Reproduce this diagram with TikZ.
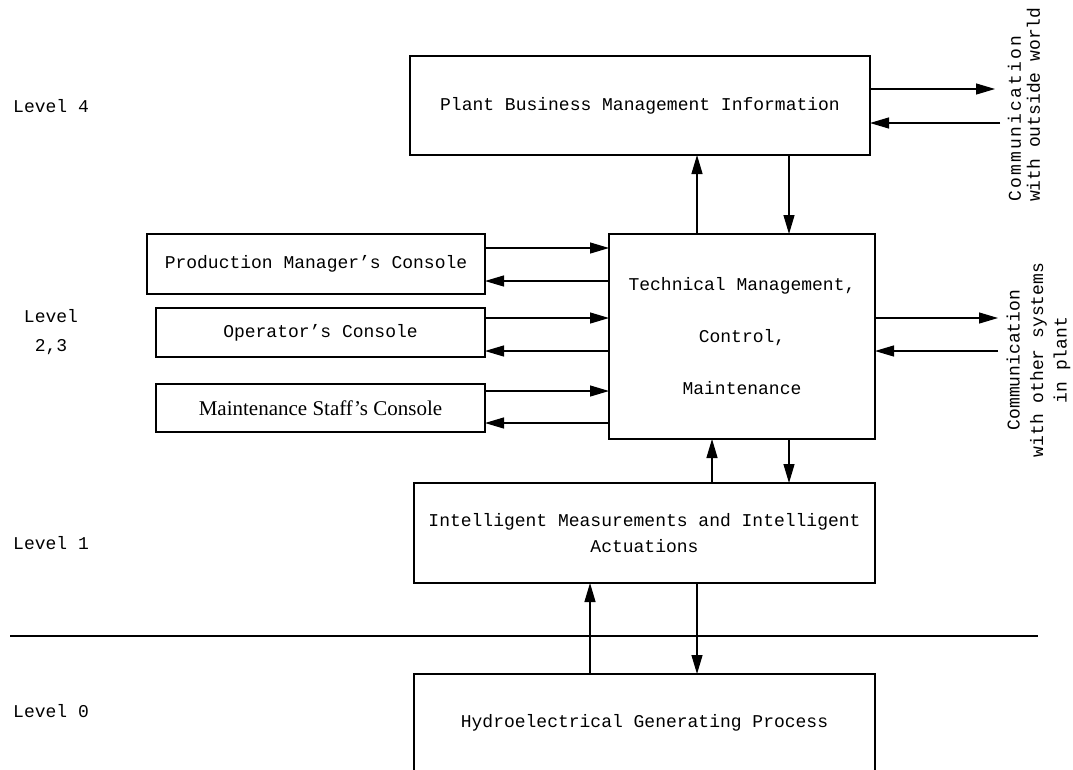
\documentclass[tikz,border=0pt]{standalone}
\usepackage{fontspec}
\setmainfont{Liberation Mono}
\newfontfamily\timesfont{Liberation Serif}
\usetikzlibrary{arrows.meta}
\tikzset{
  box/.style={draw, line width=1.4pt, inner sep=0pt, outer sep=0pt, align=center,
    font=\fontsize{18}{21.6}\selectfont},
  arr/.style={line width=1.2pt, -{Triangle[length=19pt,width=11pt]}},
  lbl/.style={inner sep=0pt, align=center, font=\fontsize{18}{21.6}\selectfont},
  divider/.style={line width=1.4pt},
}
\begin{document}
\begin{tikzpicture}[x=1pt,y=-1pt]
\useasboundingbox (0,0) rectangle (1073,769);
\clip (0,0) rectangle (1073,769);
\fill[white] (0,0) rectangle (1073,769);

% boxes
\node[box, minimum width=460pt, minimum height=99pt] (plant) at (640,105.5)
  {Plant Business Management Information};
\node[box, minimum width=266pt, minimum height=205pt, font=\fontsize{18}{52}\selectfont] (tech) at (742,336.5)
  {Technical Management,\\Control,\\Maintenance};
\node[box, minimum width=338pt, minimum height=60pt] (pmc) at (316,264)
  {Production Manager’s Console};
\node[box, minimum width=329pt, minimum height=49pt] (op) at (320.5,332.5)
  {Operator’s Console};
\node[box, minimum width=329pt, minimum height=48pt, font=\timesfont\fontsize{21}{25}\selectfont] (mst) at (320.5,408)
  {Maintenance Staff’s Console};
\node[box, minimum width=461pt, minimum height=100pt, font=\fontsize{18}{26}\selectfont] (intel) at (644.5,533)
  {Intelligent Measurements and Intelligent\\Actuations};
\node[box, minimum width=461pt, minimum height=98pt] (hydro) at (644.5,723)
  {Hydroelectrical Generating Process};

% level labels
\node[lbl, anchor=west] (l4) at (13,106) {Level 4};
\node[lbl, font=\fontsize{18}{29}\selectfont] (l23) at (51,332) {Level\\2,3};
\node[lbl, anchor=west] (l1) at (13,543) {Level 1};
\node[lbl, anchor=west] (l0) at (13,711) {Level 0};

% rotated labels
\node[lbl, rotate=90, anchor=west, align=left, font=\fontsize{18}{19}\selectfont] (cow) at (1024,202)
  {{\addfontfeatures{LetterSpace=12}Communication}\\with outside world};
\node[lbl, rotate=90, font=\fontsize{18}{23.5}\selectfont] (cos) at (1038.5,360)
  {Communication\\with other systems\\in plant};

% helper coordinates
\coordinate (ow1) at (995,89);
\coordinate (ow2) at (1000,123);
\coordinate (os1) at (998,318);
\coordinate (os2) at (998,351);
\coordinate (va) at (697,0);
\coordinate (vb) at (789,0);
\coordinate (vc) at (712,0);
\coordinate (vd) at (590,0);
\coordinate (h1) at (0,248);
\coordinate (h2) at (0,281);
\coordinate (h3) at (0,318);
\coordinate (h4) at (0,351);
\coordinate (h5) at (0,391);
\coordinate (h6) at (0,423);
\coordinate (dl) at (10,636);
\coordinate (dr) at (1038,636);

% plant <-> outside
\draw[arr] (plant.east |- ow1) -- (ow1);
\draw[arr] (ow2) -- (plant.east |- ow2);
% tech <-> other systems
\draw[arr] (tech.east |- os1) -- (os1);
\draw[arr] (os2) -- (tech.east |- os2);
% plant <-> tech
\draw[arr] (tech.north -| va) -- (plant.south -| va);
\draw[arr] (plant.south -| vb) -- (tech.north -| vb);
% tech <-> intel
\draw[arr] (intel.north -| vc) -- (tech.south -| vc);
\draw[arr] (tech.south -| vb) -- (intel.north -| vb);
% intel <-> hydro
\draw[arr] (hydro.north -| vd) -- (intel.south -| vd);
\draw[arr] (intel.south -| va) -- (hydro.north -| va);
% consoles <-> tech
\draw[arr] (pmc.east |- h1) -- (tech.west |- h1);
\draw[arr] (tech.west |- h2) -- (pmc.east |- h2);
\draw[arr] (op.east |- h3) -- (tech.west |- h3);
\draw[arr] (tech.west |- h4) -- (op.east |- h4);
\draw[arr] (mst.east |- h5) -- (tech.west |- h5);
\draw[arr] (tech.west |- h6) -- (mst.east |- h6);

% divider
\draw[divider] (dl) -- (dr);
\end{tikzpicture}
\end{document}
